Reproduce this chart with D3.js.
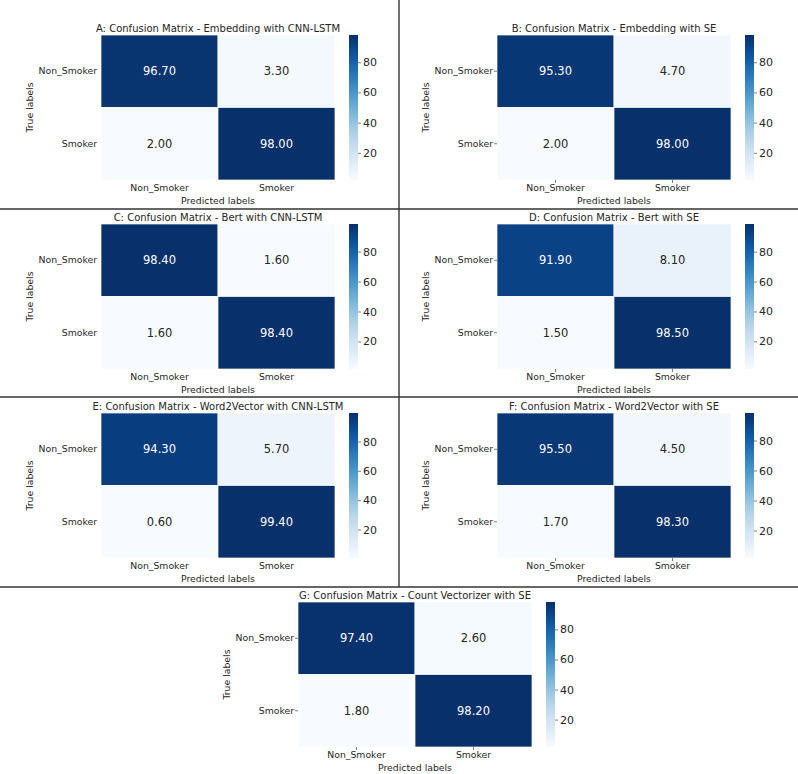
<!DOCTYPE html>
<html>
<head>
<meta charset="utf-8">
<script src="https://cdn.jsdelivr.net/npm/d3@7"></script>
<style>
  html, body { margin: 0; padding: 0; background: #fff; }
  svg { display: block; font-family: "DejaVu Sans", sans-serif; }
</style>
</head>
<body>
<svg id="chart" width="798" height="774"></svg>
<script>
// ---- data ----
const classLabels = ["Non_Smoker", "Smoker"];
const colorbarTicks = [20, 40, 60, 80];
const panelTitles = [
  "A: Confusion Matrix - Embedding with CNN-LSTM",
  "B: Confusion Matrix - Embedding with SE",
  "C: Confusion Matrix - Bert with CNN-LSTM",
  "D: Confusion Matrix - Bert with SE",
  "E: Confusion Matrix - Word2Vector with CNN-LSTM",
  "F: Confusion Matrix - Word2Vector with SE",
  "G: Confusion Matrix - Count Vectorizer with SE"
];
const valuesA = [[96.70, 3.30], [2.00, 98.00]];
const valuesB = [[95.30, 4.70], [2.00, 98.00]];
const valuesC = [[98.40, 1.60], [1.60, 98.40]];
const valuesD = [[91.90, 8.10], [1.50, 98.50]];
const valuesE = [[94.30, 5.70], [0.60, 99.40]];
const valuesF = [[95.50, 4.50], [1.70, 98.30]];
const valuesG = [[97.40, 2.60], [1.80, 98.20]];
const panelValues = [valuesA, valuesB, valuesC, valuesD, valuesE, valuesF, valuesG];

// ---- layout ----
const layout = [
  { left: 101, top: 35,  ticks: false },
  { left: 497, top: 35,  ticks: true },
  { left: 101, top: 224, ticks: false },
  { left: 497, top: 224, ticks: true },
  { left: 101, top: 413, ticks: false },
  { left: 497, top: 413, ticks: true },
  { left: 298, top: 602, ticks: true }
];
const W = 234, H = 145;
const textColor = "#262626";

const svg = d3.select("#chart");
const defs = svg.append("defs");

// divider lines
const lineColor = "#333333";
[209, 397, 587].forEach(y => {
  svg.append("line").attr("x1", 0).attr("x2", 798).attr("y1", y).attr("y2", y)
    .attr("stroke", lineColor).attr("stroke-width", 1.4);
});
svg.append("line").attr("x1", 399).attr("x2", 399).attr("y1", 0).attr("y2", 587)
  .attr("stroke", lineColor).attr("stroke-width", 1.4);

function luminance(c) {
  const rgb = d3.rgb(c);
  const f = v => { v /= 255; return v <= 0.03928 ? v / 12.92 : Math.pow((v + 0.055) / 1.055, 2.4); };
  return 0.2126 * f(rgb.r) + 0.7152 * f(rgb.g) + 0.0722 * f(rgb.b);
}

panelValues.forEach((mat, i) => {
  const L = layout[i];
  const flat = mat.flat();
  const vmin = d3.min(flat), vmax = d3.max(flat);
  const color = d3.scaleSequential(d3.interpolateBlues).domain([vmin, vmax]);

  const x = d3.scaleBand().domain(classLabels).range([L.left, L.left + W]);
  const y = d3.scaleBand().domain(classLabels).range([L.top, L.top + H]);

  const g = svg.append("g");

  // title
  g.append("text")
    .attr("x", L.left + W / 2).attr("y", L.top - 3)
    .attr("text-anchor", "middle")
    .attr("font-size", 10).attr("fill", textColor)
    .text(panelTitles[i]);

  // cells
  const cells = [];
  mat.forEach((row, r) => row.forEach((v, c) => cells.push({ r: classLabels[r], c: classLabels[c], v })));
  g.selectAll("rect.cell").data(cells).enter().append("rect")
    .attr("class", "cell")
    .attr("x", d => x(d.c)).attr("y", d => y(d.r))
    .attr("width", x.bandwidth()).attr("height", y.bandwidth())
    .attr("fill", d => color(d.v))
    .attr("stroke", "#ffffff").attr("stroke-width", 0.7);

  g.selectAll("text.ann").data(cells).enter().append("text")
    .attr("class", "ann")
    .attr("x", d => x(d.c) + x.bandwidth() / 2)
    .attr("y", d => y(d.r) + y.bandwidth() / 2)
    .attr("dy", "0.36em")
    .attr("text-anchor", "middle")
    .attr("font-size", 11.5)
    .attr("fill", d => luminance(color(d.v)) > 0.408 ? textColor : "#ffffff")
    .text(d => d.v.toFixed(2));

  const tickLen = L.ticks ? 3 : 0;

  // y axis
  const yAxis = g.append("g").attr("transform", `translate(${L.left},0)`)
    .call(d3.axisLeft(y).tickSize(tickLen));
  yAxis.select(".domain").remove();
  yAxis.selectAll("line").attr("stroke", textColor).attr("stroke-width", 0.6);
  yAxis.selectAll("text").attr("font-size", 9.3).attr("fill", textColor)
    .attr("font-family", "DejaVu Sans").attr("x", -4);

  // x axis
  const xAxis = g.append("g").attr("transform", `translate(0,${L.top + H})`)
    .call(d3.axisBottom(x).tickSize(tickLen));
  xAxis.select(".domain").remove();
  xAxis.selectAll("line").attr("stroke", textColor).attr("stroke-width", 0.6);
  xAxis.selectAll("text").attr("font-size", 9.3).attr("fill", textColor)
    .attr("font-family", "DejaVu Sans").attr("y", 4);

  // axis labels
  g.append("text")
    .attr("x", L.left + W / 2).attr("y", L.top + H + 23.5)
    .attr("text-anchor", "middle").attr("font-size", 9.3).attr("fill", textColor)
    .text("Predicted labels");
  g.append("text")
    .attr("transform", `translate(${L.left - 68},${L.top + H / 2}) rotate(-90)`)
    .attr("text-anchor", "middle").attr("font-size", 9.3).attr("fill", textColor)
    .text("True labels");

  // colorbar
  const cbX = L.left + 248, cbW = 9;
  const cbScale = d3.scaleLinear().domain([vmin, vmax]).range([L.top + H, L.top]);
  const gradId = "grad" + i;
  const grad = defs.append("linearGradient").attr("id", gradId)
    .attr("x1", 0).attr("y1", 1).attr("x2", 0).attr("y2", 0);
  d3.range(0, 1.0001, 0.05).forEach(t => {
    grad.append("stop").attr("offset", t).attr("stop-color", d3.interpolateBlues(t));
  });
  g.append("rect").attr("x", cbX).attr("y", L.top).attr("width", cbW).attr("height", H)
    .attr("fill", `url(#${gradId})`);
  const cbAxis = g.append("g").attr("transform", `translate(${cbX + cbW},0)`)
    .call(d3.axisRight(cbScale).tickValues(colorbarTicks).tickSize(3).tickPadding(2));
  cbAxis.select(".domain").remove();
  cbAxis.selectAll("line").attr("stroke", textColor).attr("stroke-width", 0.6);
  cbAxis.selectAll("text").attr("font-size", 11).attr("fill", textColor)
    .attr("font-family", "DejaVu Sans");
});
</script>
</body>
</html>
